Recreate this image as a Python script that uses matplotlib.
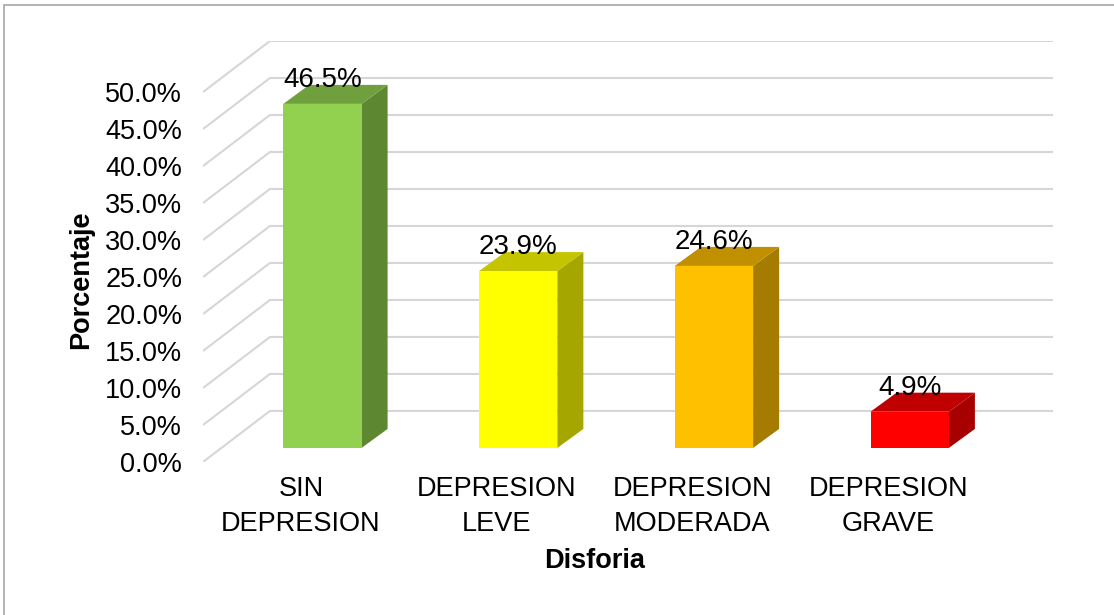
import matplotlib
matplotlib.use("Agg")
import matplotlib.pyplot as plt
from matplotlib.patches import Polygon, Rectangle

plt.rcParams['font.family'] = ['Liberation Sans', 'DejaVu Sans']

categories = ["SIN\nDEPRESION", "DEPRESION\nLEVE", "DEPRESION\nMODERADA", "DEPRESION\nGRAVE"]
values = [46.5, 23.9, 24.6, 4.9]
labels = ["46.5%", "23.9%", "24.6%", "4.9%"]
front_colors = ["#92D050", "#FFFF00", "#FFC000", "#FF0000"]
top_colors = ["#70A03E", "#C4C400", "#C09000", "#C00000"]
side_colors = ["#5E8732", "#A6A600", "#A67C00", "#A60000"]
yticks = [0, 5, 10, 15, 20, 25, 30, 35, 40, 45, 50]

# fake 3d: depth of the whole floor and of one bar, in data units
DX, DY = 0.342, 6.9
OX, OY = 0.11, 1.9      # where the bar front face sits
BX, BY = 0.133, 2.57    # bar depth
W = 0.4

fig = plt.figure(figsize=(11.14, 6.15), dpi=100)
ax = fig.add_axes([203 / 1114, (615 - 462) / 615, 850 / 1114, 421 / 615])
ax.set_xlim(-0.5, 3.5 + DX)
ax.set_ylim(0, 50 + DY)
for s in ax.spines.values():
    s.set_visible(False)

# gridlines: diagonal on the side wall, then flat on the back wall
for v in yticks:
    ax.plot([-0.5, -0.5 + DX, 3.5 + DX], [v, v + DY, v + DY],
            color="#D6D6D6", lw=1.5, zorder=1, solid_capstyle='butt')

for i, v in enumerate(values):
    x0 = i + OX - W / 2
    x1 = i + OX + W / 2
    y0 = OY
    y1 = OY + v
    front = [(x0, y0), (x1, y0), (x1, y1), (x0, y1)]
    side = [(x1, y0), (x1 + BX, y0 + BY), (x1 + BX, y1 + BY), (x1, y1)]
    top = [(x0, y1), (x1, y1), (x1 + BX, y1 + BY), (x0 + BX, y1 + BY)]
    ax.add_patch(Polygon(side, closed=True, fc=side_colors[i], ec='none', zorder=3))
    ax.add_patch(Polygon(top, closed=True, fc=top_colors[i], ec='none', zorder=3))
    ax.add_patch(Polygon(front, closed=True, fc=front_colors[i], ec='none', zorder=4))
    ax.text(i + OX, y1 + 3.2, labels[i], ha='center', va='center',
            fontsize=20, color='black', zorder=5)

ax.set_yticks(yticks)
ax.set_yticklabels(["%.1f%%" % t for t in yticks])
ax.set_xticks(range(len(categories)))
ax.set_xticklabels(categories, linespacing=1.45)
ax.tick_params(axis='y', length=0, pad=15, labelsize=19.5)
ax.tick_params(axis='x', length=0, pad=10, labelsize=19.5)

ax.set_xlabel("Disforia", fontsize=19.5, fontweight='bold')
ax.xaxis.set_label_coords(1.5, -0.204, transform=ax.get_xaxis_transform())
ax.set_ylabel("Porcentaje", fontsize=19.5, fontweight='bold')
ax.yaxis.set_label_coords(-0.128, 0.432)

# chart border
fig.patches.append(Rectangle((4 / 1114, -0.1), 1.2, (615 - 5) / 615 + 0.1,
                             transform=fig.transFigure, fill=False,
                             ec="#A6A6A6", lw=1.2))

fig.savefig("out.png", dpi=100)
